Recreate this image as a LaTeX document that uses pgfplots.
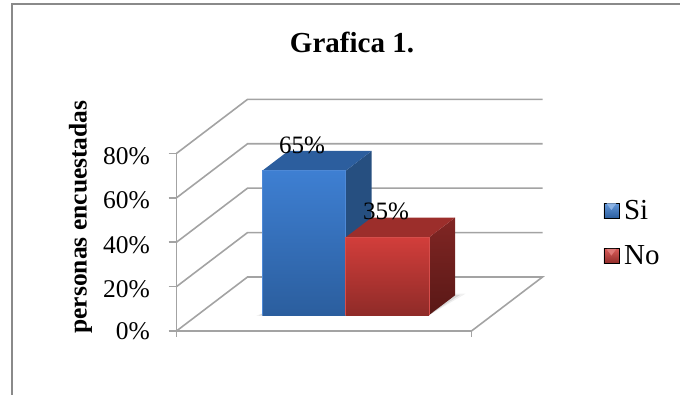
\documentclass[border=0pt]{standalone}
\usepackage{pgfplots}
\pgfplotsset{compat=1.18}
\usepackage{fontspec}
\setmainfont{Liberation Serif}
\definecolor{gridgray}{HTML}{A3A3A3}
\definecolor{framegray}{HTML}{8A8A8A}
\definecolor{blueA}{HTML}{3E7FD2}
\definecolor{blueB}{HTML}{2B5E9E}
\definecolor{blueTop}{HTML}{2C5E9E}
\definecolor{blueSide}{HTML}{264F80}
\definecolor{redA}{HTML}{D23E3B}
\definecolor{redB}{HTML}{8F2B28}
\definecolor{redTop}{HTML}{9C2E2B}
\definecolor{redSideA}{HTML}{812624}
\definecolor{redSideB}{HTML}{591816}
\begin{document}
\begin{tikzpicture}[x=1pt,y=1pt]
  \useasboundingbox (0,0) rectangle (680,-395);
  % outer frame: only the top and left edges are visible
  \draw[framegray,line width=2pt] (12,-395) -- (12,-4) -- (680,-4);
  \node[anchor=base,font=\fontsize{29}{29}\selectfont\bfseries] at (352,-53) {Grafica 1.};
  \node[anchor=base,rotate=90,font=\fontsize{25.5}{25.5}\selectfont\bfseries] at (86.5,-217) {personas encuestadas};
  \begin{axis}[
      at={(176.5pt,-331pt)}, anchor=origin,
      x={(1pt,0pt)}, y={(71pt,54pt)}, z={(0pt,2.22pt)},
      xmin=0, xmax=295, ymin=0, ymax=1, zmin=0, zmax=80,
      axis x line=bottom, axis y line=none, axis z line=left,
      axis line style={gridgray,line width=1.6pt,-},
      xtick=\empty, ytick=\empty,
      ztick={0,20,40,60,80},
      zticklabel={\pgfmathprintnumber{\tick}\%},
      /pgf/number format/assume math mode=true,
      major tick length=0pt,
      tick label style={font=\fontsize{25.5}{25.5}\selectfont,xshift=-23pt,yshift=6.5pt},
      clip=false,
      legend style={at={(axis cs:427,0,44)},anchor=west,draw=none,fill=none,
        font=\fontsize{29}{29}\selectfont,row sep=21pt,inner sep=0pt,
        legend cell align=left},
    ]
    % walls and floor
    \addplot3[gridgray,line width=1.6pt,forget plot] coordinates {
      (0,0,0) (0,1,0) (295,1,0) (295,0,0) (0,0,0)

      (0,0,20) (0,1,20) (295,1,20)

      (0,0,40) (0,1,40) (295,1,40)

      (0,0,60) (0,1,60) (295,1,60)

      (0,0,80) (0,1,80) (295,1,80)
    };
    % vertical axis line with its tick marks, and the two marks below the floor
    \addplot3[gridgray,line width=1.6pt,forget plot] coordinates {
      (0,0,-2.7) (0,0,80)

      (-8,0,0) (0,0,0)

      (-8,0,20) (0,0,20)

      (-8,0,40) (0,0,40)

      (-8,0,60) (0,0,60)

      (-8,0,80) (0,0,80)

      (295,0,0) (295,0,-2.7)
    };
    % soft shadow on the floor
    \addplot3[fill=black,fill opacity=0.06,draw=none,forget plot] coordinates {
      (60,0.28,0) (231.6,0.28,0) (240,0.69,0) (80,0.69,0) (60,0.28,0)};
    \addplot3[fill=black,fill opacity=0.10,draw=none,forget plot] coordinates {
      (62,0.29,0) (231.6,0.29,0) (236,0.67,0) (80,0.67,0) (62,0.29,0)};
    % blue bar, 65
    \addplot3[fill=blueSide,draw=none,forget plot] coordinates {
      (148.2,0.296,0) (148.2,0.662,0) (148.2,0.662,65) (148.2,0.296,65) (148.2,0.296,0)};
    \addplot3[fill=blueTop,draw=none,forget plot] coordinates {
      (64.8,0.296,65) (148.2,0.296,65) (148.2,0.662,65) (64.8,0.662,65) (64.8,0.296,65)};
    \addplot3[top color=blueA,bottom color=blueB,draw=none,forget plot] coordinates {
      (64.8,0.296,0) (148.2,0.296,0) (148.2,0.296,65) (64.8,0.296,65) (64.8,0.296,0)};
    % red bar, 35
    \addplot3[top color=redSideA,bottom color=redSideB,draw=none,forget plot] coordinates {
      (231.6,0.296,0) (231.6,0.662,0) (231.6,0.662,35) (231.6,0.296,35) (231.6,0.296,0)};
    \addplot3[fill=redTop,draw=none,forget plot] coordinates {
      (148.2,0.296,35) (231.6,0.296,35) (231.6,0.662,35) (148.2,0.662,35) (148.2,0.296,35)};
    \addplot3[top color=redA,bottom color=redB,draw=none,forget plot] coordinates {
      (148.2,0.296,0) (231.6,0.296,0) (231.6,0.296,35) (148.2,0.296,35) (148.2,0.296,0)};
    % bevel highlights along the front edges
    \addplot3[blueA!92!white,line width=0.5pt,forget plot] coordinates {
      (64.8,0.296,0) (64.8,0.296,65) (148.2,0.296,65) (148.2,0.296,0)};
    \addplot3[redA!92!white,line width=0.5pt,forget plot] coordinates {
      (148.2,0.296,0) (148.2,0.296,35) (231.6,0.296,35) (231.6,0.296,0)};
    % value labels
    \node[anchor=base,yshift=6.8pt,font=\fontsize{25}{25}\selectfont] at (axis cs:91.5,0.48,65) {65\%};
    \node[anchor=base,yshift=7.4pt,font=\fontsize{25}{25}\selectfont] at (axis cs:175.5,0.48,35) {35\%};
    % legend keys
    \addlegendimage{legend image code/.code={
      \fill[top color=blueA!80!white,bottom color=blueB] (0pt,-7.5pt) rectangle (15pt,7.5pt);
      \fill[blueA!60!white] (3pt,7pt) -- (12pt,7pt) -- (7.5pt,1pt) -- cycle;}}
    \addlegendentry{\hspace*{3pt}Si}
    \addlegendimage{legend image code/.code={
      \fill[top color=redA!85!white,bottom color=redB] (0pt,-7.5pt) rectangle (15pt,7.5pt);
      \fill[redA!70!white] (3pt,7pt) -- (12pt,7pt) -- (7.5pt,1pt) -- cycle;}}
    \addlegendentry{\hspace*{3pt}No}
  \end{axis}
\end{tikzpicture}
\end{document}
